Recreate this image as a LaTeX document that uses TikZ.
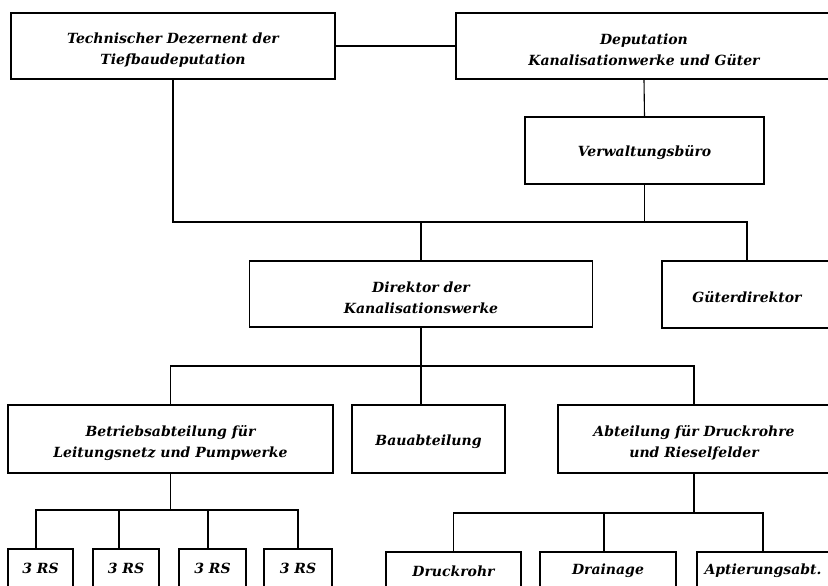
\documentclass[tikz,border=0pt]{standalone}
\usepackage{fontspec}
\setmainfont{DejaVu Serif}
\begin{document}
\begin{tikzpicture}[x=1pt,y=-1pt,
  unit/.style={draw, line width=1.1pt, inner sep=0pt},
  caption/.style={align=center, inner sep=0pt,
    font=\fontsize{14}{21}\selectfont\bfseries\itshape},
  low/.style={label={[caption]center:{#1}}},
  one/.style={label={[caption, yshift=-2.5pt]center:{#1}}},
  two/.style={label={[caption, yshift=-4pt]center:{#1}}},
  link/.style={line width=1.1pt}]
\clip (0,0) rectangle (828,586);
\fill[white] (0,0) rectangle (828,586);

% top level
\node[unit, minimum width=324pt, minimum height=66pt,
  two={Technischer Dezernent der\\Tiefbaudeputation}] (tech) at (173,46) {};
\node[unit, minimum width=376pt, minimum height=66pt,
  two={Deputation\\Kanalisationwerke und Güter}] (dep) at (644,46) {};
\node[unit, minimum width=239pt, minimum height=67pt,
  one={Verwaltungsbüro}] (verw) at (644.5,150.5) {};

% directors
\node[unit, minimum width=343pt, minimum height=66pt,
  two={Direktor der\\Kanalisationswerke}] (dir) at (421,294) {};
\node[unit, minimum width=170pt, minimum height=67pt,
  one={Güterdirektor}] (gd) at (747,294.5) {};

% departments
\node[unit, minimum width=325pt, minimum height=68pt,
  two={Betriebsabteilung für\\Leitungsnetz und Pumpwerke}] (betr) at (170.5,439) {};
\node[unit, minimum width=153pt, minimum height=68pt,
  one={Bauabteilung}] (bau) at (428.5,439) {};
\node[unit, minimum width=272pt, minimum height=68pt,
  two={Abteilung für Druckrohre\\und Rieselfelder}] (abt) at (694,439) {};

% sections
\node[unit, minimum width=65pt, minimum height=38pt, low={3 RS}] (rs1) at (40.5,568) {};
\node[unit, minimum width=66pt, minimum height=38pt, low={3 RS}] (rs2) at (126,568) {};
\node[unit, minimum width=67pt, minimum height=38pt, low={3 RS}] (rs3) at (212.5,568) {};
\node[unit, minimum width=68pt, minimum height=38pt, low={3 RS}] (rs4) at (298,568) {};
\node[unit, minimum width=135pt, minimum height=38pt, low={Druckrohr}] (druck) at (453.5,571) {};
\node[unit, minimum width=136pt, minimum height=38pt, low={Drainage}] (drain) at (608,571) {};
\node[unit, minimum width=132pt, minimum height=38pt, low={Aptierungsabt.}] (apt) at (763,571) {};

% bus lines
\coordinate (busA) at (0,222);
\coordinate (busB) at (0,366);
\coordinate (busC) at (0,510);
\coordinate (busD) at (0,513);

% connectors
\draw[link] (tech.east) -- (dep.west);
\draw[link] (dep.south) -- (verw.north);
\draw[link] (tech.south) |- (busA -| gd.north) -- (gd.north);
\draw[link] (verw.south) -- (verw.south |- busA);
\draw[link] (dir.north |- busA) -- (dir.north);

\draw[link] (dir.south) -- (dir.south |- bau.north);
\draw[link] (betr.north) |- (busB -| abt.north) -- (abt.north);

\draw[link] (betr.south) -- (betr.south |- busC);
\draw[link] ([xshift=-4.5pt]rs1.north) |- (busC -| rs4.north) -- (rs4.north);
\draw[link] ([xshift=-7pt]rs2.north) -- ([xshift=-7pt]rs2.north |- busC);
\draw[link] ([xshift=-4.5pt]rs3.north) -- ([xshift=-4.5pt]rs3.north |- busC);

\draw[link] (abt.south) -- (abt.south |- busD);
\draw[link] (druck.north) |- (busD -| apt.north) -- (apt.north);
\draw[link] ([xshift=-4pt]drain.north) -- ([xshift=-4pt]drain.north |- busD);
\end{tikzpicture}
\end{document}
